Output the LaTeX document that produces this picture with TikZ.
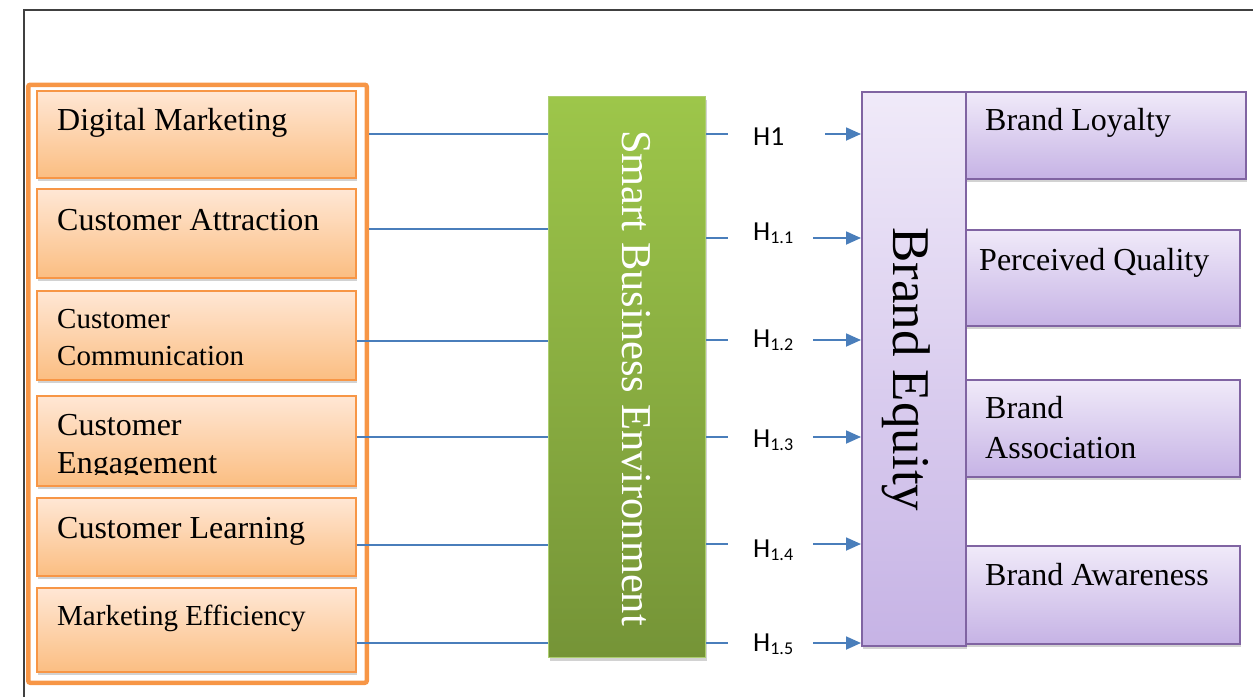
\documentclass[tikz,border=0pt]{standalone}
\usepackage{fontspec}
\setmainfont{Liberation Serif}
\newfontfamily\hfont{Carlito}
\usetikzlibrary{shadows,arrows.meta}
\definecolor{orBorder}{RGB}{247,150,70}
\definecolor{orTop}{RGB}{255,231,213}
\definecolor{orBot}{RGB}{251,190,130}
\definecolor{grTop}{RGB}{157,198,74}
\definecolor{grBot}{RGB}{117,148,55}
\definecolor{grBorder}{RGB}{172,206,112}
\definecolor{puTop}{RGB}{240,234,249}
\definecolor{puBot}{RGB}{198,179,229}
\definecolor{puBorder}{RGB}{128,100,162}
\definecolor{lnBlue}{RGB}{74,126,187}
\definecolor{frameGray}{RGB}{64,64,64}
\begin{document}
\begin{tikzpicture}[x=1pt,y=-1pt,
  softshadow/.style={drop shadow={shadow xshift=1.5pt, shadow yshift=-3pt, opacity=0.25, fill=black!70}},
  obox/.style={draw=orBorder, line width=1.5pt, top color=orTop, bottom color=orBot,
    minimum width=319pt, inner sep=0pt, anchor=north west, softshadow},
  pbox/.style={draw=puBorder, line width=1.5pt, top color=puTop, bottom color=puBot,
    inner sep=0pt, anchor=north west, softshadow},
  gbox/.style={draw=grBorder, line width=1.2pt, top color=grTop, bottom color=grBot,
    inner sep=0pt, anchor=north west, softshadow},
  ltext/.style={anchor=base west, inner sep=0pt, font=\fontsize{32}{38}\selectfont},
  stext/.style={anchor=base west, inner sep=0pt, font=\fontsize{29}{35}\selectfont},
  hlab/.style={anchor=base west, inner sep=0pt, font=\hfont\fontsize{27.5}{30}\selectfont},
  conn/.style={draw=lnBlue, line width=1.8pt},
  arr/.style={conn, -{Triangle[length=15pt, width=13pt]}}
]
\useasboundingbox (0,0) rectangle (1253,697);
% page frame
\draw[frameGray, line width=1.3pt] (24,697) -- (24,10) -- (1253,10);

% left group frame
\node[draw=orBorder, line width=4.5pt, rounded corners=2pt, anchor=north west,
  minimum width=338.5pt, minimum height=598pt, inner sep=0pt] (frame) at (26,82.5) {};

% left boxes
\node[obox, minimum height=87pt] (b1) at (36,90) {};
\node[obox, minimum height=89pt] (b2) at (36,188) {};
\node[obox, minimum height=89pt] (b3) at (36,290) {};
\node[obox, minimum height=90pt] (b4) at (36,395) {};
\node[obox, minimum height=78pt] (b5) at (36,497) {};
\node[obox, minimum height=84pt] (b6) at (36,587) {};

\node[ltext] (t1) at (57,130) {Digital Marketing};
\node[ltext] (t2) at (57,230) {Customer Attraction};
\node[stext] (t3a) at (57,328) {Customer};
\node[stext] (t3b) at (57,365) {Communication};
\node[ltext] (t4a) at (57,435) {Customer};
\begin{scope}
  \clip (40,440) rectangle (350,474);
  \node[ltext] (t4b) at (57,473) {Engagement};
\end{scope}
\node[ltext] (t5) at (57,538) {Customer Learning};
\node[stext] (t6) at (57,625) {Marketing Efficiency};

% green box
\node[gbox, minimum width=157pt, minimum height=561pt] (sbe) at (548,96) {};
\node[rotate=-90, anchor=base west, inner sep=0pt, text=white,
  font=\fontsize{42.5}{44}\selectfont] (sbetext) at (622,130) {Smart Business Environment};

% purple boxes
\node[pbox, minimum width=280pt, minimum height=87pt] (loy) at (965,91) {};
\node[pbox, minimum width=274pt, minimum height=96pt] (qual) at (965,229) {};
\node[pbox, minimum width=274pt, minimum height=97pt] (assoc) at (965,379) {};
\node[pbox, minimum width=274pt, minimum height=98pt] (aware) at (965,545) {};
\node[pbox, minimum width=104pt, minimum height=554pt] (eq) at (861,91) {};
\node[rotate=-90, anchor=base west, inner sep=0pt,
  font=\fontsize{53}{55}\selectfont] (eqtext) at (893,227) {Brand Equity};

\node[ltext] (tl) at (985,130) {Brand Loyalty};
\node[ltext] (tq) at (979,270) {Perceived Quality};
\node[ltext] (ta1) at (985,418) {Brand};
\node[ltext] (ta2) at (985,458) {Association};
\node[ltext] (tw) at (985,585) {Brand Awareness};

% left connectors
\draw[conn] (frame.east |- 0,134) -- (sbe.west |- 0,134);
\draw[conn] (frame.east |- 0,229) -- (sbe.west |- 0,229);
\draw[conn] (b3.east |- 0,341) -- (sbe.west |- 0,341);
\draw[conn] (b4.east |- 0,437) -- (sbe.west |- 0,437);
\draw[conn] (b5.east |- 0,545) -- (sbe.west |- 0,545);
\draw[conn] (b6.east |- 0,643) -- (sbe.west |- 0,643);

% hypothesis labels
\node[hlab] (h1) at (753,145) {H1};
\node[hlab] (h11) at (753,240) {H{\fontsize{18}{18}\selectfont\raisebox{-3pt}{1.1}}};
\node[hlab] (h12) at (753,347) {H{\fontsize{18}{18}\selectfont\raisebox{-3pt}{1.2}}};
\node[hlab] (h13) at (753,447) {H{\fontsize{18}{18}\selectfont\raisebox{-3pt}{1.3}}};
\node[hlab] (h14) at (753,557) {H{\fontsize{18}{18}\selectfont\raisebox{-3pt}{1.4}}};
\node[hlab] (h15) at (753,651) {H{\fontsize{18}{18}\selectfont\raisebox{-3pt}{1.5}}};

% right connectors
\coordinate (r1) at (sbe.east |- 0,134);
\coordinate (r2) at (sbe.east |- 0,238);
\coordinate (r3) at (sbe.east |- 0,340);
\coordinate (r4) at (sbe.east |- 0,437);
\coordinate (r5) at (sbe.east |- 0,544);
\coordinate (r6) at (sbe.east |- 0,643);
\draw[conn] (r1) -- ([xshift=-25pt]h1.west |- r1);
\draw[conn] (r2) -- ([xshift=-25pt]h11.west |- r2);
\draw[conn] (r3) -- ([xshift=-25pt]h12.west |- r3);
\draw[conn] (r4) -- ([xshift=-25pt]h13.west |- r4);
\draw[conn] (r5) -- ([xshift=-25pt]h14.west |- r5);
\draw[conn] (r6) -- ([xshift=-25pt]h15.west |- r6);
\draw[arr] ([xshift=41pt]h1.east |- r1) -- (eq.west |- r1);
\draw[arr] ([xshift=20pt]h11.east |- r2) -- (eq.west |- r2);
\draw[arr] ([xshift=20pt]h12.east |- r3) -- (eq.west |- r3);
\draw[arr] ([xshift=20pt]h13.east |- r4) -- (eq.west |- r4);
\draw[arr] ([xshift=20pt]h14.east |- r5) -- (eq.west |- r5);
\draw[arr] ([xshift=20pt]h15.east |- r6) -- (eq.west |- r6);
\end{tikzpicture}
\end{document}
